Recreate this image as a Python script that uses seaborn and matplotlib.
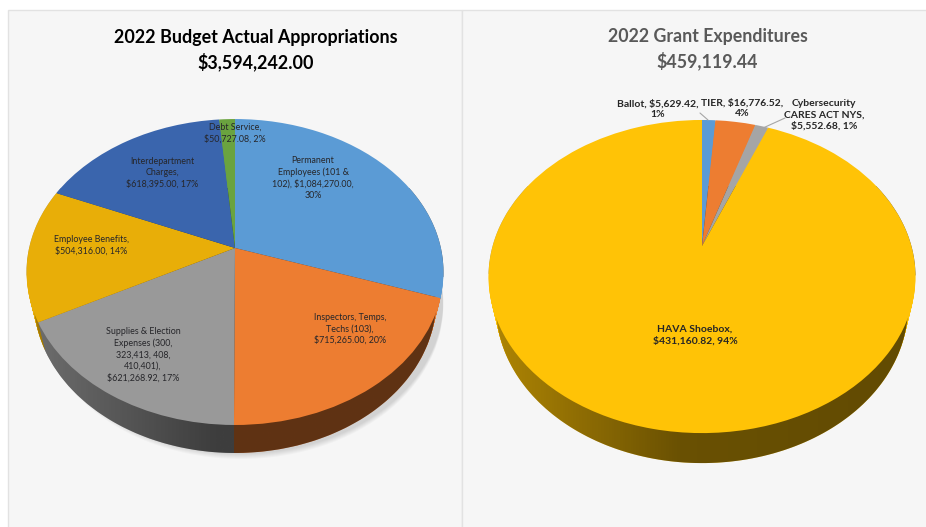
import numpy as np
import matplotlib
matplotlib.use('Agg')
import matplotlib.pyplot as plt
import matplotlib.transforms as mtransforms
from matplotlib.patches import Rectangle, Polygon
import seaborn as sns

# Budget pie
budget_title = '2022 Budget Actual Appropriations\n$3,594,242.00'
budget_values = [1084270.00, 715265.00, 621268.92, 504316.00, 618395.00, 50727.08]
budget_colors = ['#5B9BD5', '#ED7D31', '#999999', '#E8AE08', '#3A65AD', '#6AA33F']
budget_labels = ['Permanent\nEmployees (101 &\n102), $1,084,270.00,\n30%',
                 'Inspectors, Temps,\nTechs (103),\n$715,265.00, 20%',
                 'Supplies & Election\nExpenses (300,\n323,413, 408,\n410,401),\n$621,268.92, 17%',
                 'Employee Benefits,\n$504,316.00, 14%',
                 'Interdepartment\nCharges,\n$618,395.00, 17%',
                 'Debt Service,\n$50,727.08, 2%']
budget_label_xy = [(313, 178), (350, 329), (143, 355), (91, 245), (162, 173), (235, 133)]

# Grant pie
grant_title = '2022 Grant Expenditures\n$459,119.44'
grant_values = [5629.42, 16776.52, 5552.68, 431160.82]
grant_colors = ['#5B9BD5', '#ED7D31', '#A5A5A5', '#FFC306']
grant_labels = ['Ballot, $5,629.42,\n1%', 'TIER, $16,776.52,\n4%',
                'Cybersecurity\nCARES ACT NYS,\n$5,552.68, 1%', 'HAVA Shoebox,\n$431,160.82, 94%']
grant_label_xy = [(658, 109), (742, 108), (824, 115), (695, 335)]


class TiltedPie(mtransforms.Transform):
    # unit circle -> tilted ellipse, apex sits above the ellipse centre
    input_dims = 2
    output_dims = 2

    def __init__(self, cx, cy, a, b, k, dy=0, shrink=1.0):
        super().__init__()
        self.p = (cx, cy, a, b, k, dy, shrink)

    def transform_non_affine(self, xy):
        cx, cy, a, b, k, dy, shrink = self.p
        xy = np.asarray(xy)
        d = 1 + k * xy[:, 1]
        return np.column_stack([cx + shrink * a * xy[:, 0] / d, cy + dy - b * xy[:, 1] / d])


def draw_pie(ax, values, colors, geom, depth, side_stops, shadow=False):
    colors = sns.color_palette(colors)
    cx, cy, a, b, k = geom

    def layer(dy, shrink, zorder):
        wedges, _ = ax.pie(values, colors=colors, startangle=90, counterclock=False, frame=True)
        for w in wedges:
            w.set_transform(TiltedPie(cx, cy, a, b, k, dy, shrink) + ax.transData)
            w.set_zorder(zorder)
            w.set_linewidth(0)
        return wedges

    t = np.linspace(0, 2 * np.pi, 300)
    circle = np.column_stack([np.cos(t), np.sin(t)])

    if shadow:
        for i in range(6):
            poly = TiltedPie(cx + 6, cy, a, b, k, depth + 1 + i, 1 - 0.03).transform(circle)
            ax.add_patch(Polygon(poly, closed=True, fc='black', ec='none', alpha=0.025, zorder=1))

    for d in range(depth, 0, -1):
        layer(d, 1 - 0.035 * d / depth, 2)

    # side shading, darker towards the middle
    top = TiltedPie(cx, cy, a, b, k).transform(circle)
    bottom = TiltedPie(cx, cy, a, b, k, depth, 1 - 0.035).transform(circle)
    hull = np.vstack([top[top[:, 1] < cy + 30], bottom[bottom[:, 1] >= cy + 30][::-1]])
    order = np.argsort(np.arctan2(hull[:, 1] - cy - 30, hull[:, 0] - cx))
    clip = Polygon(hull[order], closed=True, fc='none', ec='none', transform=ax.transData)
    ax.add_patch(clip)
    xs = np.linspace(cx - 1.05 * a, cx + 1.05 * a, 256)
    alpha = np.interp(xs, [cx - a, cx - 0.1 * a, cx + a], side_stops)
    rgba = np.zeros((1, 256, 4))
    rgba[0, :, 3] = alpha
    im = ax.imshow(rgba, extent=(xs[0], xs[-1], cy + 220, cy - 60), aspect='auto', zorder=3)
    im.set_clip_path(clip)

    layer(0, 1.0, 4)


sns.set_theme(style='white')
plt.rcParams['font.family'] = ['Lato', 'DejaVu Sans']

fig = plt.figure(figsize=(9.26, 5.27), dpi=100)
ax = fig.add_axes([0, 0, 1, 1])
ax.set_axis_off()

# panels
ax.add_patch(Rectangle((8, 10), 454, 520, fc='#F6F6F6', ec='#E2E2E2', lw=1, zorder=0))
ax.add_patch(Rectangle((462, 10), 470, 520, fc='#F6F6F6', ec='#E2E2E2', lw=1, zorder=0))

draw_pie(ax, budget_values, budget_colors, (235, 248, 205.9, 149.2, 0.157), 28, [0.28, 0.6, 0.6], shadow=True)
draw_pie(ax, grant_values, grant_colors, (702, 246, 209.4, 150.6, 0.195), 30, [0.32, 0.59, 0.62])

ax.text(255.5, 50, budget_title, ha='center', va='center', fontsize=12.9, fontweight='bold',
        color='black', linespacing=1.4, zorder=6)
ax.text(707.5, 49.5, grant_title, ha='center', va='center', fontsize=12.8, fontweight='bold',
        color='#595959', linespacing=1.4, zorder=6)

for txt, (x, y) in zip(budget_labels, budget_label_xy):
    ax.text(x, y, txt, ha='center', va='center', fontsize=6.4, color='#26262A', linespacing=1.32, zorder=6)
for txt, (x, y) in zip(grant_labels, grant_label_xy):
    ax.text(x, y, txt, ha='center', va='center', fontsize=7.5, fontweight='bold', color='#262626',
            linespacing=1.28, zorder=6)

# leader lines
ax.plot([700, 708], [113, 120], color='#A6A6A6', lw=0.8, zorder=5)
ax.plot([785, 763], [118, 128], color='#A6A6A6', lw=0.8, zorder=5)

ax.set_xlim(0, 926)
ax.set_ylim(527, 0)
ax.set_aspect('auto')

plt.savefig('out.png', dpi=100)
